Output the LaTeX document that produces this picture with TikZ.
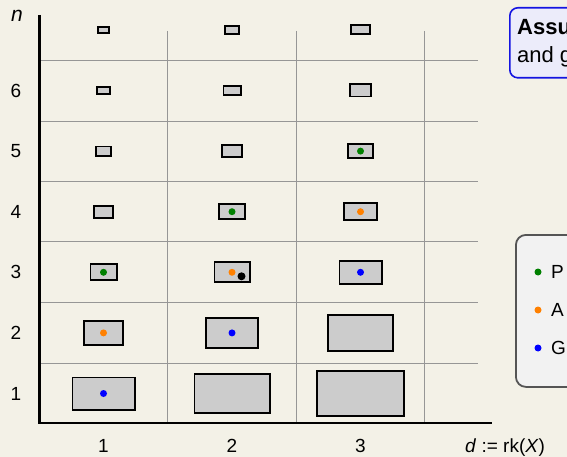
\documentclass[tikz,border=0pt]{standalone}
\usepackage{fontspec}
\setmainfont{Liberation Sans}
\usetikzlibrary{positioning}

\definecolor{bgcream}{RGB}{243,241,231}
\definecolor{gridgray}{RGB}{150,150,150}
\definecolor{boxgray}{RGB}{204,204,204}
\definecolor{dotgreen}{RGB}{0,128,0}
\definecolor{dotorange}{RGB}{255,128,0}
\definecolor{dotblue}{RGB}{0,0,255}
\definecolor{assumefill}{RGB}{236,236,250}
\definecolor{assumedraw}{RGB}{20,20,225}
\definecolor{legendfill}{RGB}{242,242,242}
\definecolor{legenddraw}{RGB}{85,85,85}

\begin{document}
\begin{tikzpicture}[
    x=1pt, y=-1pt,
    every node/.style={font=\fontsize{19}{23}\selectfont},
    cell/.style={rectangle, draw=black, fill=boxgray, line width=1.9pt, inner sep=0pt},
    dot/.style={circle, fill=#1, inner sep=0pt, minimum size=7pt},
    gridline/.style={gridgray, line width=0.9pt},
    axis/.style={black, line width=2.2pt},
    assumebox/.style={rectangle, draw=assumedraw, fill=assumefill, line width=1.6pt, rounded corners=8pt},
    legendbox/.style={rectangle, draw=legenddraw, fill=legendfill, line width=1.8pt, rounded corners=10pt}
]

\useasboundingbox (0,0) rectangle (567,457);
\clip (0,0) rectangle (567,457);
\fill[bgcream] (0,0) rectangle (567,457);

% grid
\foreach \gy in {60,121,181,241,302,363}
    \draw[gridline] (40,\gy) -- (478,\gy);
\foreach \gx in {167.5,296,424.5}
    \draw[gridline] (\gx,31) -- (\gx,423);

% axes
\coordinate (origin) at (39.5,423);
\coordinate (ytop) at (39.5,15);
\coordinate (xend) at (492,423);
\draw[axis] (ytop) -- (origin) -- (xend);

% boxes, one column per rank
\foreach \c/\cx/\sizes in {1/103.5/{64/34,41/26,28/18,21/14,17/11,15/9,13/8},
                           2/232/{77/41,54/32,37/22,28/17,22/14,19/11,16/10},
                           3/360.5/{89/47,67/38,44/25,35/19,27/16,23/14,21/11}}
{
    \foreach \w/\h [count=\r] in \sizes {
        \pgfmathsetmacro\ry{393.5-60.6*(\r-1)}
        \node[cell, minimum width=\w pt-1.9pt, minimum height=\h pt-1.9pt] (cell-\c-\r) at (\cx,\ry) {};
    }
}

% dots
\foreach \c in {1,2,3} {
    \pgfmathtruncatemacro\ra{\c+1}
    \pgfmathtruncatemacro\rp{\c+2}
    \node[dot=dotblue] (g-\c) at (cell-\c-\c) {};
    \node[dot=dotorange] (a-\c) at (cell-\c-\ra) {};
    \node[dot=dotgreen] (p-\c) at (cell-\c-\rp) {};
}
\node[dot=black, minimum size=8pt] (extra) at ([shift={(9.5,4)}]cell-2-3.center) {};

% axis labels
\foreach \r in {1,...,6} {
    \pgfmathsetmacro\ry{393.5-60.6*(\r-1)}
    \node (ylab-\r) at (16,\ry) {\r};
}
\foreach \c/\cx in {1/103.5,2/232,3/360.5}
    \node (xlab-\c) at (\cx,446) {\c};
\node[font=\fontsize{21}{24}\selectfont] (nlab) at (17,16) {\textit{n}};
\node[inner sep=0pt, anchor=base west] (dlab) at (465,452) {\textit{d} := rk(\textit{X})};

% assumption box
\node[assumebox, anchor=north west, minimum width=140pt, minimum height=70pt] (assume) at (509,7) {};
\node[inner sep=0pt, anchor=base west, font=\fontsize{22}{27}\selectfont\bfseries] (assume-1) at ([shift={(8,28)}]assume.north west) {Assu};
\node[inner sep=0pt, anchor=base west, font=\fontsize{22}{27}\selectfont] (assume-2) at ([shift={(8,56)}]assume.north west) {and g};

% legend
\node[legendbox, anchor=north west, minimum width=140pt, minimum height=152pt] (legend) at (515,234) {};
\node[dot=dotgreen] (leg-p) at (538,272) {};
\node[dot=dotorange] (leg-a) at (538,310) {};
\node[dot=dotblue] (leg-g) at (538,348) {};
\node[right=6pt of leg-p] (leg-p-text) {P};
\node[right=6pt of leg-a] (leg-a-text) {A};
\node[right=6pt of leg-g] (leg-g-text) {G};

\end{tikzpicture}
\end{document}
